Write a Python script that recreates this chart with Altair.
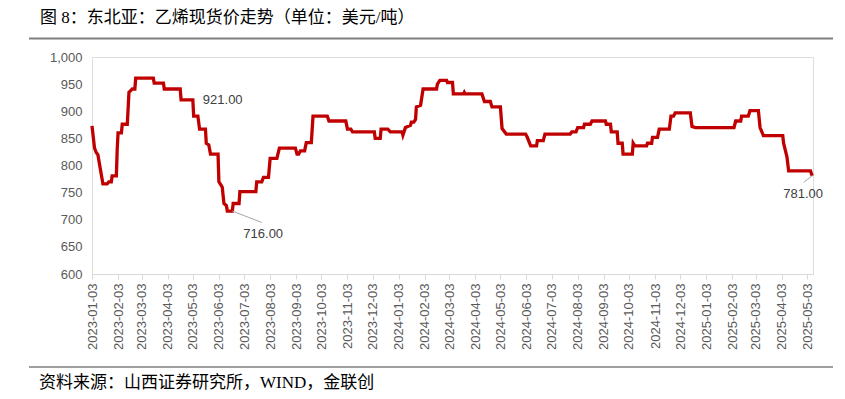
import altair as alt
import pandas as pd

# ---- data ----
start_date = "2023-01-03"
# days after 2023-01-03
day_offsets = [0, 3, 5, 7, 13, 18, 20, 23, 24, 29, 30, 31, 35, 36, 42, 44, 46, 48, 51, 52,
               73, 74, 85, 86, 105, 106, 120, 121, 126, 128, 135, 136, 139, 141, 150, 151,
               153, 155, 157, 160, 161, 167, 168, 175, 176, 195, 196, 202, 204, 210, 212,
               220, 223, 242, 244, 246, 248, 253, 255, 261, 263, 280, 282, 302, 304, 308,
               310, 336, 337, 343, 344, 352, 355, 369, 370, 373, 379, 380, 383, 385, 386,
               391, 394, 410, 411, 414, 422, 423, 429, 430, 442, 443, 444, 464, 467, 474,
               476, 486, 488, 493, 516, 518, 522, 529, 530, 537, 539, 569, 571, 576, 578,
               585, 586, 593, 595, 611, 612, 617, 618, 625, 626, 631, 632, 643, 644, 646,
               660, 661, 666, 667, 673, 675, 687, 689, 692, 694, 712, 714, 718, 764, 766,
               772, 773, 781, 783, 793, 795, 799, 822, 823, 827, 829, 855, 857]
prices = [873, 832, 824, 820, 766, 766, 770, 770, 781, 781, 830, 860, 860, 876, 876, 935, 938, 941, 941, 961,
          961, 952, 952, 941, 941, 921, 921, 891, 891, 867, 867, 841, 838, 821, 821, 770,
          765, 760, 730, 726, 716, 716, 730, 730, 752, 752, 770, 770, 778, 778, 813,
          813, 832, 832, 821, 821, 827, 827, 842, 842, 891, 891, 882, 882, 867, 867,
          862, 862, 850, 850, 867, 867, 862, 862, 856, 870, 874, 880, 880, 885, 908,
          911, 941, 941, 950, 957, 957, 953, 953, 932, 932, 935, 932, 932, 918, 918,
          908, 908, 868, 858, 858, 852, 836, 836, 846, 846, 858, 858, 862, 862, 870,
          870, 876, 876, 882, 882, 876, 876, 862, 862, 841, 841, 821, 821, 841, 836,
          836, 841, 841, 852, 852, 867, 867, 891, 891, 897, 897, 872, 870, 870, 882,
          882, 891, 891, 901, 901, 870, 855, 855, 841, 816, 790, 790, 781]

ann_days = [120, 167, 857]
ann_values = [921, 716, 781]
ann_labels = ["921.00", "716.00", "781.00"]
leader_start_days = [167, 857]
leader_start_values = [716, 781]
leader_end_days = [202, 847]
leader_end_values = [695, 769]

tick_dates = [f"{y}-{m:02d}-03" for y in (2023, 2024, 2025) for m in range(1, 13)
              if not (y == 2025 and m > 5)]
domain_dates = ["2023-01-03", "2025-05-10"]
y_ticks = [600, 650, 700, 750, 800, 850, 900, 950, 1000]

title_text = "图 8：东北亚：乙烯现货价走势（单位：美元/吨）"
source_text = "资料来源：山西证券研究所，WIND，金联创"

# ---- helpers ----
t0 = pd.Timestamp(start_date)
def ms(ts):
    return int(pd.Timestamp(ts).value // 10**6)
def day_ms(d):
    return ms(t0 + pd.Timedelta(days=d))

df = pd.DataFrame({"date": [day_ms(d) for d in day_offsets], "price": prices})
ann = pd.DataFrame({"date": [day_ms(d) for d in ann_days], "price": ann_values, "label": ann_labels})
lead = pd.DataFrame({
    "date": [day_ms(d) for d in leader_start_days], "price": leader_start_values,
    "date2": [day_ms(d) for d in leader_end_days], "price2": leader_end_values})

LATIN = "Liberation Sans"
SERIF_CJK = "Liberation Serif, Noto Sans CJK SC"

xscale = alt.Scale(type="utc", domain=[ms(d) for d in domain_dates])
yscale = alt.Scale(domain=[600, 1000])

x_axis = alt.Axis(values=[ms(d) for d in tick_dates],
                  labelExpr="utcFormat(datum.value, '%Y-%m-%d')",
                  labelAngle=270, labelFontSize=13, labelFont=LATIN,
                  labelColor="#595959", domainColor="#D9D9D9",
                  tickColor="#D9D9D9", tickSize=5, labelPadding=4,
                  grid=False, labelOverlap=False, labelFlush=False)
y_axis = alt.Axis(values=y_ticks, format=",d",
                  domain=False, ticks=False, grid=False, labelOverlap=False,
                  labelFontSize=13, labelFont=LATIN, labelColor="#595959",
                  labelPadding=10)

x_enc = alt.X("date:T", scale=xscale, title=None, axis=x_axis)
y_enc = alt.Y("price:Q", scale=yscale, title=None, axis=y_axis)

line = alt.Chart(df).mark_line(color="#C00000", strokeWidth=3.3).encode(x=x_enc, y=y_enc)

leaders = alt.Chart(lead).mark_rule(color="#A6A6A6", strokeWidth=1).encode(
    x=x_enc, y=y_enc, x2="date2:T", y2="price2:Q")

def label_layer(i, align, dx, dy):
    return alt.Chart(ann.iloc[[i]]).mark_text(
        align=align, baseline="middle", dx=dx, dy=dy, fontSize=13,
        font=LATIN, color="#404040").encode(x=x_enc, y=y_enc, text="label:N")

lab1 = label_layer(0, "left", 10, 0)
lab2 = label_layer(1, "left", 11, 23)
lab3 = label_layer(2, "center", -9, 18.5)

title = alt.Chart(pd.DataFrame({"t": [title_text]})).mark_text(
    align="left", baseline="middle", fontSize=17, font=SERIF_CJK, color="#000000"
).encode(text="t:N", x=alt.value(-52), y=alt.value(-39))

source = alt.Chart(pd.DataFrame({"t": [source_text]})).mark_text(
    align="left", baseline="middle", fontSize=17, font=SERIF_CJK, color="#000000"
).encode(text="t:N", x=alt.value(-53), y=alt.value(326))

top_rule = alt.Chart(pd.DataFrame({"k": [0]})).mark_rule(color="#7F7F7F", strokeWidth=2).encode(
    x=alt.value(-63), x2=alt.value(741), y=alt.value(-18.5))
bottom_rule = alt.Chart(pd.DataFrame({"k": [0]})).mark_rule(color="#7F7F7F", strokeWidth=1.5).encode(
    x=alt.value(-63), x2=alt.value(741), y=alt.value(310))

chart = alt.layer(line, leaders, lab1, lab2, lab3, title, source, top_rule, bottom_rule).properties(
    width=721, height=217,
    autosize=alt.AutoSizeParams(type="none"),
    padding={"left": 84, "top": 49, "right": 24, "bottom": 117},
).configure_view(stroke=None).configure(background="white")

chart.save("out.html", embed_options={"renderer": "svg", "actions": False})
